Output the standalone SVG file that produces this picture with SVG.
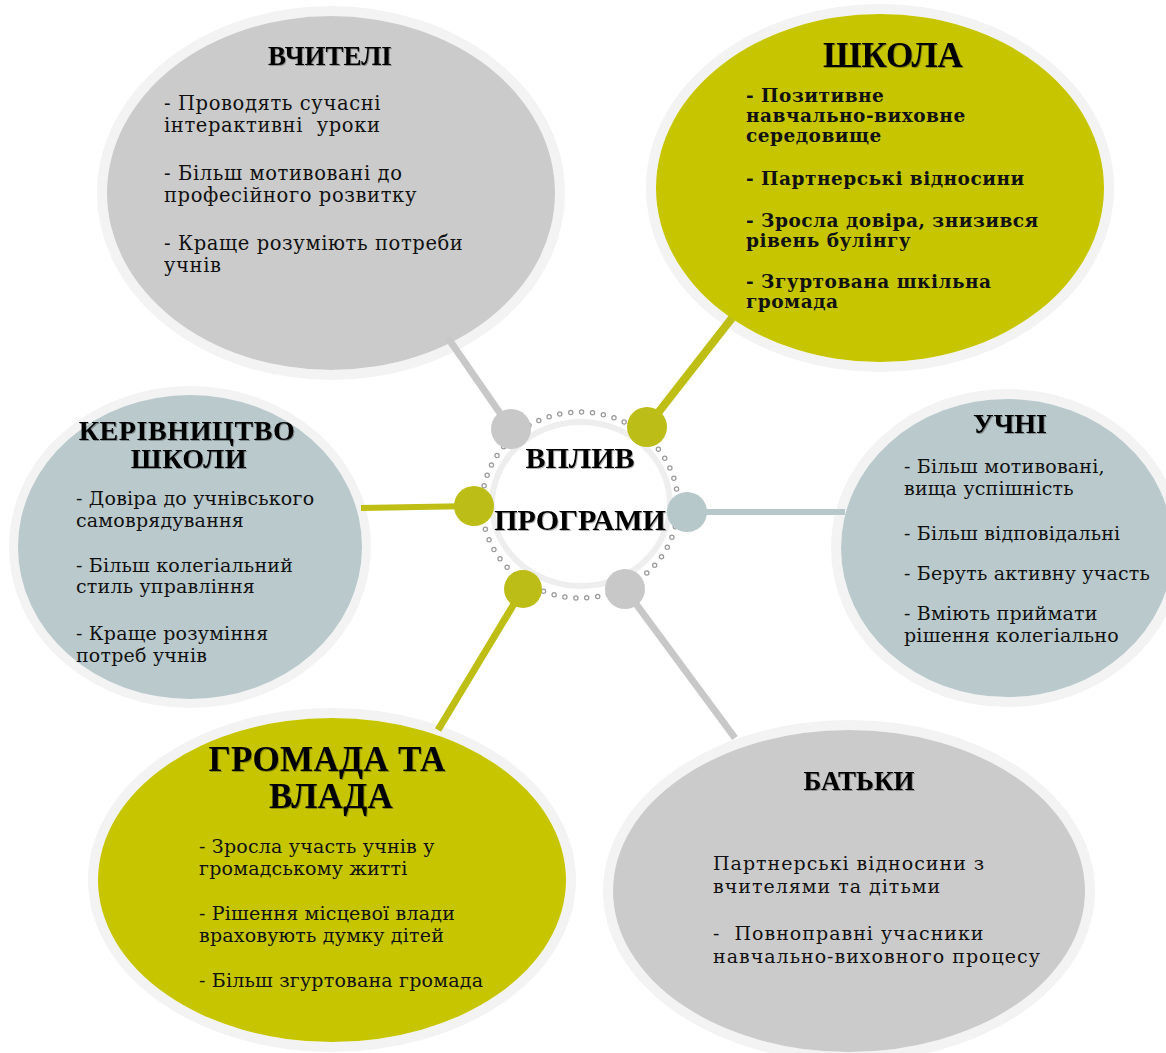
<svg xmlns="http://www.w3.org/2000/svg" width="1166" height="1053" viewBox="0 0 1166 1053">
<defs>
<filter id="sh" x="-10%" y="-30%" width="120%" height="160%">
<feDropShadow dx="1" dy="1" stdDeviation="0.5" flood-color="#000" flood-opacity="0.3"/>
</filter>
<style>
.ring{fill:none;stroke:#f3f3f3;stroke-width:10}
.gray{fill:#cbcbcb}
.olive{fill:#c6c500}
.blue{fill:#b9c9cc}
.title{font-family:"Liberation Serif","DejaVu Serif",serif;font-weight:bold;fill:#000;text-anchor:middle;filter:url(#sh)}
.b1{font-family:"DejaVu Serif","Liberation Serif",serif;font-size:19.5px;fill:#111;letter-spacing:0.6px;white-space:pre}
.b2{font-family:"DejaVu Serif","Liberation Serif",serif;font-size:18.5px;font-weight:bold;fill:#111;letter-spacing:0.5px}
.b3{font-family:"DejaVu Serif","Liberation Serif",serif;font-size:19px;fill:#111;letter-spacing:0.2px}
.b4{font-family:"DejaVu Serif","Liberation Serif",serif;font-size:19px;fill:#111;letter-spacing:1px;white-space:pre}
.ln{fill:none;stroke-linecap:butt}
</style>
</defs>
<rect width="1166" height="1053" fill="#fff"/>

<g id="node-vchyteli">
<ellipse class="ring" cx="331" cy="193" rx="229" ry="182"/>
<ellipse class="gray" cx="331" cy="193" rx="224" ry="177"/>
<text class="title" x="330" y="65" font-size="27">ВЧИТЕЛІ</text>
<text class="b1" x="164" y="110">- Проводять сучасні</text>
<text class="b1" x="164" y="132" xml:space="preserve">інтерактивні  уроки</text>
<text class="b1" x="164" y="180">- Більш мотивовані до</text>
<text class="b1" x="164" y="202">професійного розвитку</text>
<text class="b1" x="164" y="250">- Краще розуміють потреби</text>
<text class="b1" x="164" y="272">учнів</text>
</g>

<g id="node-shkola">
<ellipse class="ring" cx="880" cy="188" rx="229" ry="179"/>
<ellipse class="olive" cx="880" cy="188" rx="224" ry="174"/>
<text class="title" x="893" y="67" font-size="35">ШКОЛА</text>
<text class="b2" x="746" y="102">- Позитивне</text>
<text class="b2" x="746" y="122">навчально-виховне</text>
<text class="b2" x="746" y="142">середовище</text>
<text class="b2" x="746" y="185">- Партнерські відносини</text>
<text class="b2" x="746" y="227">- Зросла довіра, знизився</text>
<text class="b2" x="746" y="247">рівень булінгу</text>
<text class="b2" x="746" y="288">- Згуртована шкільна</text>
<text class="b2" x="746" y="308">громада</text>
</g>

<g id="node-kerivnytstvo">
<ellipse class="ring" cx="190" cy="547" rx="176" ry="156"/>
<ellipse class="blue" cx="190" cy="547" rx="172" ry="152"/>
<text class="title" x="187" y="440" font-size="28" letter-spacing="0.6">КЕРІВНИЦТВО</text>
<text class="title" x="189" y="468" font-size="28" letter-spacing="0.6">ШКОЛИ</text>
<text class="b3" x="76" y="505" letter-spacing="0.6">- Довіра до учнівського</text>
<text class="b3" x="76" y="527">самоврядування</text>
<text class="b3" x="76" y="572">- Більш колегіальний</text>
<text class="b3" x="76" y="593">стиль управління</text>
<text class="b3" x="76" y="640">- Краще розуміння</text>
<text class="b3" x="76" y="662">потреб учнів</text>
</g>

<g id="node-uchni">
<ellipse class="ring" cx="1007" cy="548" rx="171" ry="154"/>
<ellipse class="blue" cx="1007" cy="548" rx="166" ry="149"/>
<text class="title" x="1010" y="433" font-size="28">УЧНІ</text>
<text class="b3" x="904" y="473">- Більш мотивовані,</text>
<text class="b3" x="904" y="495">вища успішність</text>
<text class="b3" x="904" y="540">- Більш відповідальні</text>
<text class="b3" x="904" y="580">- Беруть активну участь</text>
<text class="b3" x="904" y="620">- Вміють приймати</text>
<text class="b3" x="904" y="642">рішення колегіально</text>
</g>

<g id="node-hromada">
<ellipse class="ring" cx="332" cy="880" rx="239" ry="167"/>
<ellipse class="olive" cx="332" cy="880" rx="234" ry="162"/>
<text class="title" x="327" y="771" font-size="35" letter-spacing="0.3">ГРОМАДА ТА</text>
<text class="title" x="331" y="808" font-size="35" letter-spacing="0.3">ВЛАДА</text>
<text class="b3" x="199" y="853">- Зросла участь учнів у</text>
<text class="b3" x="199" y="875">громадському житті</text>
<text class="b3" x="199" y="920">- Рішення місцевої влади</text>
<text class="b3" x="199" y="942">враховують думку дітей</text>
<text class="b3" x="199" y="987">- Більш згуртована громада</text>
</g>

<g id="node-batky">
<ellipse class="ring" cx="849" cy="891" rx="241" ry="166"/>
<ellipse class="gray" cx="849" cy="891" rx="236" ry="161"/>
<text class="title" x="859" y="790" font-size="27">БАТЬКИ</text>
<text class="b4" x="713" y="870">Партнерські відносини з</text>
<text class="b4" x="713" y="893">вчителями та дітьми</text>
<text class="b4" x="713" y="940" xml:space="preserve">-  Повноправні учасники</text>
<text class="b4" x="713" y="963">навчально-виховного процесу</text>
</g>

<g id="node-center">
<ellipse cx="580" cy="505" rx="98" ry="93" fill="none" stroke="#9a9a9a" stroke-width="5.5" stroke-linecap="round" stroke-dasharray="0 11"/>
<ellipse cx="580" cy="505" rx="98" ry="93" fill="none" stroke="#fff" stroke-width="3" stroke-linecap="round" stroke-dasharray="0 11"/>
<ellipse cx="581" cy="504" rx="89" ry="82" fill="#fff" stroke="#eeeeee" stroke-width="6"/>
<text class="title" x="580" y="468" font-size="30">ВПЛИВ</text>
<text class="title" x="580" y="530" font-size="30">ПРОГРАМИ</text>
</g>

<g id="connectors">
<line class="ln" x1="511" y1="429" x2="448" y2="338" stroke="#c8c8c8" stroke-width="7"/>
<line class="ln" x1="647" y1="427" x2="732" y2="318" stroke="#bebe14" stroke-width="8"/>
<line class="ln" x1="474" y1="506" x2="361" y2="508" stroke="#bebe14" stroke-width="6"/>
<line class="ln" x1="687" y1="512" x2="845" y2="512" stroke="#b7c8cb" stroke-width="6"/>
<line class="ln" x1="523" y1="589" x2="438" y2="730" stroke="#bebe14" stroke-width="7"/>
<line class="ln" x1="625" y1="589" x2="735" y2="738" stroke="#c8c8c8" stroke-width="7"/>
<circle cx="511" cy="429" r="20" fill="#c8c8c8"/>
<circle cx="647" cy="427" r="20" fill="#bdbd18"/>
<circle cx="474" cy="506" r="20" fill="#bdbd18"/>
<circle cx="687" cy="512" r="20" fill="#b7c8cb"/>
<circle cx="523" cy="589" r="19" fill="#bdbd18"/>
<circle cx="625" cy="589" r="20" fill="#c8c8c8"/>
</g>
</svg>
